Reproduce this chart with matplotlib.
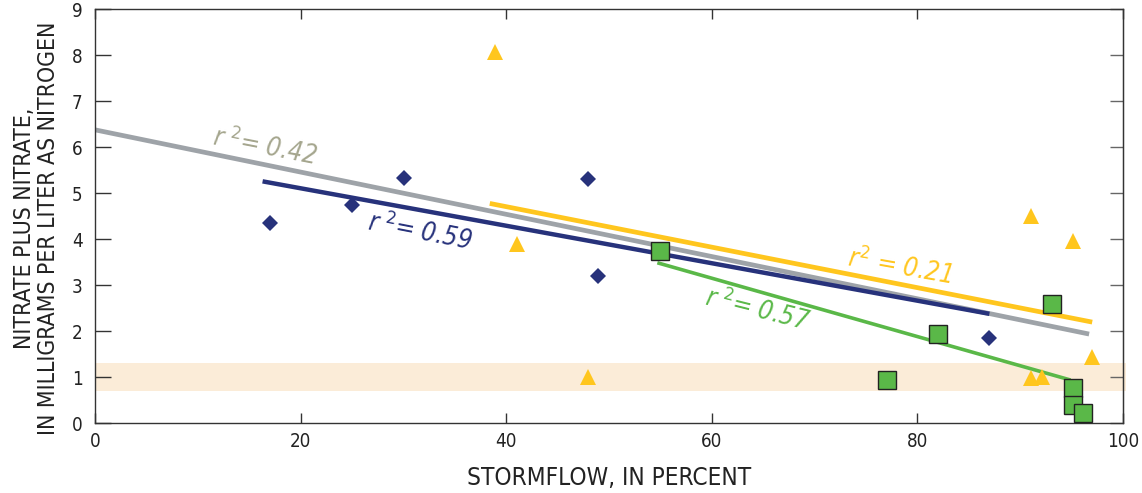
import matplotlib
matplotlib.use('Agg')
import matplotlib.pyplot as plt

# data
wet_x = [17.0, 25.0, 30.1, 48.0, 48.9, 87.0]
wet_y = [4.35, 4.75, 5.33, 5.31, 3.20, 1.86]

tri_x = [38.9, 41.0, 48.0, 91.0, 95.1, 97.0, 91.0, 92.1]
tri_y = [8.07, 3.90, 1.00, 4.50, 3.97, 1.45, 0.99, 1.01]

sq_x = [55.0, 77.0, 82.0, 93.1, 95.1, 95.1, 96.1]
sq_y = [3.74, 0.94, 1.94, 2.59, 0.76, 0.40, 0.23]

# regression line end points
fit_all_x = [0.0, 96.7]
fit_all_y = [6.38, 1.94]
fit_wet_x = [16.3, 87.0]
fit_wet_y = [5.26, 2.38]
fit_tri_x = [38.4, 97.0]
fit_tri_y = [4.78, 2.20]
fit_sq_x = [54.7, 94.9]
fit_sq_y = [3.49, 0.94]

band = (0.7, 1.3)

x_ticks = [0, 20, 40, 60, 80, 100]
y_ticks = list(range(10))

NAVY = '#27327b'
GOLD = '#ffc61e'
GREEN = '#5ab848'
GRAY = '#9ea3a8'
OLIVE = '#a5a68e'

plt.rcParams['font.family'] = ['DejaVu Sans']
plt.rcParams['font.stretch'] = 'condensed'
plt.rcParams['mathtext.fontset'] = 'custom'
plt.rcParams['mathtext.rm'] = 'DejaVu Sans:stretch=condensed'
plt.rcParams['mathtext.it'] = 'DejaVu Sans:style=oblique:stretch=condensed'

fig = plt.figure(figsize=(11.42, 4.93), dpi=100)
ax = fig.add_axes([0.0832, 0.1414, 0.9002, 0.8397])

ax.axhspan(band[0], band[1], xmin=0, xmax=1.003, color='#fbecd8', zorder=0, lw=0, clip_on=False)

ax.plot(fit_all_x, fit_all_y, color=GRAY, lw=3.4, solid_capstyle='butt', zorder=2)
ax.plot(fit_wet_x, fit_wet_y, color=NAVY, lw=3.2, solid_capstyle='butt', zorder=3)
ax.plot(fit_tri_x, fit_tri_y, color=GOLD, lw=3.4, solid_capstyle='butt', zorder=3)
ax.plot(fit_sq_x, fit_sq_y, color=GREEN, lw=2.6, solid_capstyle='butt', zorder=3)

ax.plot(wet_x, wet_y, 'D', color=NAVY, ms=8.5, mew=0, zorder=5)
ax.plot(tri_x, tri_y, '^', color=GOLD, ms=12, mew=0, zorder=5)
ax.plot(sq_x, sq_y, 's', color=GREEN, mec='#222222', mew=1.0, ms=12.5, zorder=6)

lab = dict(fontsize=18.5, fontstyle='italic', fontstretch='condensed',
           ha='center', va='center', rotation_mode='anchor')
ax.text(16.5, 6.0, r'$r^{\ 2}$= 0.42', color=OLIVE, rotation=-11, **lab)
ax.text(31.6, 4.16, r'$r^{\ 2}$= 0.59', color=NAVY, rotation=-11, **lab)
ax.text(78.3, 3.40, r'$r^{2}$ = 0.21', color=GOLD, rotation=-10, **lab)
ax.text(64.4, 2.46, r'$r^{\ 2}$= 0.57', color=GREEN, rotation=-14, **lab)

ax.set_xlim(0, 100)
ax.set_ylim(0, 9)
ax.set_xticks(x_ticks)
ax.set_yticks(y_ticks)

for s in ax.spines.values():
    s.set_color('#333333')
    s.set_linewidth(1.0)

ax.tick_params(axis='x', direction='in', length=7.5, width=1.0, color='#333333',
               top=True, labelsize=13.5, pad=6, labelcolor='#222222')
ax.tick_params(axis='y', direction='in', length=11.5, width=1.0, color='#333333',
               labelsize=13.5, pad=9, labelcolor='#222222')

sec = ax.secondary_yaxis('right')
sec.set_yticks(y_ticks)
sec.tick_params(direction='in', length=9.6, width=1.0, color='#666666', labelright=False)
sec.spines['right'].set_color('#333333')

ax.set_xlabel('STORMFLOW, IN PERCENT', fontsize=17.5, color='#222222', labelpad=11)
ax.set_ylabel('NITRATE PLUS NITRATE,\nIN MILLIGRAMS PER LITER AS NITROGEN', fontsize=16.5,
              color='#222222', labelpad=9, linespacing=1.05)
ax.yaxis.set_label_coords(-0.034, 0.47)

fig.savefig('out.png', dpi=100)
